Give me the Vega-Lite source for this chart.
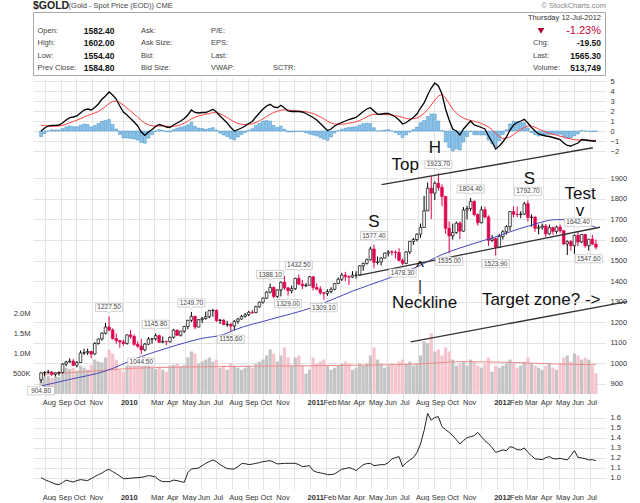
{
  "$schema": "https://vega.github.io/schema/vega-lite/v6.json",
  "background": "white",
  "padding": {"left": 0, "top": 0, "right": 0, "bottom": 0},
  "spacing": 0,
  "config": {
    "view": {"stroke": "#a8a8a8", "strokeWidth": 1},
    "axis": {"domain": false, "ticks": false, "title": null, "labelFont": "Liberation Sans", "labelFontSize": 7.5, "labelColor": "#333", "gridColor": "#e4e4e4", "gridWidth": 1},
    "text": {"font": "Liberation Sans"}
  },
  "datasets": {
    "wk": [
      {"d":"2009-07-24","o":920,"h":958,"l":904.8,"c":953,"v":380,"p":0.0,"s":0.57,"hg":-0.57,"r":1.0},
      {"d":"2009-07-31","o":953,"h":961,"l":935,"c":955,"v":420,"p":0.3,"s":0.55,"hg":-0.25,"r":0.98},
      {"d":"2009-08-07","o":955,"h":968,"l":950,"c":957,"v":450,"p":0.5,"s":0.5,"hg":0.0,"r":0.965},
      {"d":"2009-08-14","o":957,"h":962,"l":937,"c":946,"v":400,"p":0.57,"s":0.45,"hg":0.12,"r":0.95},
      {"d":"2009-08-21","o":946,"h":955,"l":935,"c":953,"v":430,"p":0.57,"s":0.47,"hg":0.1,"r":0.935},
      {"d":"2009-08-28","o":953,"h":960,"l":940,"c":955,"v":420,"p":0.6,"s":0.5,"hg":0.1,"r":0.93},
      {"d":"2009-09-04","o":955,"h":1000,"l":950,"c":996,"v":600,"p":0.8,"s":0.56,"hg":0.24,"r":0.95},
      {"d":"2009-09-11","o":996,"h":1012,"l":985,"c":1006,"v":650,"p":1.1,"s":0.68,"hg":0.42,"r":0.975},
      {"d":"2009-09-18","o":1006,"h":1024,"l":1003,"c":1010,"v":620,"p":1.33,"s":0.82,"hg":0.51,"r":0.965},
      {"d":"2009-09-25","o":1010,"h":1020,"l":986,"c":990,"v":640,"p":1.4,"s":0.96,"hg":0.44,"r":0.955},
      {"d":"2009-10-02","o":990,"h":1010,"l":980,"c":1003,"v":580,"p":1.5,"s":1.08,"hg":0.42,"r":0.97},
      {"d":"2009-10-09","o":1003,"h":1062,"l":1001,"c":1050,"v":700,"p":1.8,"s":1.22,"hg":0.58,"r":0.98},
      {"d":"2009-10-16","o":1050,"h":1070,"l":1040,"c":1051,"v":650,"p":2.1,"s":1.4,"hg":0.7,"r":0.975},
      {"d":"2009-10-23","o":1051,"h":1071,"l":1040,"c":1057,"v":600,"p":2.2,"s":1.55,"hg":0.65,"r":0.97},
      {"d":"2009-10-30","o":1057,"h":1060,"l":1025,"c":1045,"v":720,"p":2.1,"s":1.68,"hg":0.42,"r":0.99},
      {"d":"2009-11-06","o":1045,"h":1102,"l":1040,"c":1096,"v":850,"p":2.35,"s":1.8,"hg":0.55,"r":1.01},
      {"d":"2009-11-13","o":1096,"h":1120,"l":1090,"c":1118,"v":800,"p":2.7,"s":1.95,"hg":0.75,"r":1.03},
      {"d":"2009-11-20","o":1118,"h":1150,"l":1110,"c":1146,"v":780,"p":3.17,"s":2.2,"hg":0.97,"r":1.045},
      {"d":"2009-11-27","o":1146,"h":1196,"l":1140,"c":1176,"v":900,"p":3.5,"s":2.45,"hg":1.05,"r":1.07},
      {"d":"2009-12-04","o":1176,"h":1227.5,"l":1155,"c":1162,"v":1100,"p":3.9,"s":2.75,"hg":1.15,"r":1.083},
      {"d":"2009-12-11","o":1162,"h":1170,"l":1115,"c":1120,"v":1000,"p":3.6,"s":2.95,"hg":0.65,"r":1.06},
      {"d":"2009-12-18","o":1120,"h":1145,"l":1095,"c":1110,"v":850,"p":3.2,"s":3.0,"hg":0.2,"r":1.04},
      {"d":"2009-12-25","o":1110,"h":1112,"l":1075,"c":1104,"v":600,"p":2.5,"s":2.85,"hg":-0.35,"r":1.015},
      {"d":"2010-01-01","o":1104,"h":1115,"l":1085,"c":1096,"v":550,"p":1.9,"s":2.6,"hg":-0.7,"r":0.99},
      {"d":"2010-01-08","o":1096,"h":1140,"l":1090,"c":1138,"v":700,"p":1.6,"s":2.3,"hg":-0.7,"r":0.99},
      {"d":"2010-01-15","o":1138,"h":1162,"l":1120,"c":1130,"v":750,"p":1.25,"s":2.0,"hg":-0.75,"r":0.995},
      {"d":"2010-01-22","o":1130,"h":1140,"l":1085,"c":1092,"v":780,"p":0.9,"s":1.7,"hg":-0.8,"r":0.997},
      {"d":"2010-01-29","o":1092,"h":1106,"l":1074,"c":1083,"v":820,"p":0.5,"s":1.4,"hg":-0.9,"r":1.0},
      {"d":"2010-02-05","o":1083,"h":1120,"l":1044.5,"c":1065,"v":950,"p":-0.1,"s":1.05,"hg":-1.15,"r":1.003},
      {"d":"2010-02-12","o":1065,"h":1098,"l":1058,"c":1093,"v":800,"p":-0.43,"s":0.8,"hg":-1.23,"r":1.01},
      {"d":"2010-02-19","o":1093,"h":1127,"l":1088,"c":1118,"v":700,"p":-0.1,"s":0.62,"hg":-0.72,"r":1.02},
      {"d":"2010-02-26","o":1118,"h":1122,"l":1095,"c":1119,"v":650,"p":0.15,"s":0.52,"hg":-0.37,"r":1.015},
      {"d":"2010-03-05","o":1119,"h":1145.8,"l":1110,"c":1134,"v":620,"p":0.45,"s":0.5,"hg":-0.05,"r":1.005},
      {"d":"2010-03-12","o":1134,"h":1140,"l":1100,"c":1102,"v":680,"p":0.65,"s":0.5,"hg":0.15,"r":0.975},
      {"d":"2010-03-19","o":1102,"h":1130,"l":1098,"c":1106,"v":600,"p":0.55,"s":0.5,"hg":0.05,"r":0.96},
      {"d":"2010-03-26","o":1106,"h":1110,"l":1088,"c":1105,"v":550,"p":0.4,"s":0.48,"hg":-0.08,"r":0.96},
      {"d":"2010-04-02","o":1105,"h":1130,"l":1100,"c":1126,"v":700,"p":0.35,"s":0.45,"hg":-0.1,"r":0.96},
      {"d":"2010-04-09","o":1126,"h":1166,"l":1120,"c":1161,"v":720,"p":0.6,"s":0.47,"hg":0.13,"r":0.975},
      {"d":"2010-04-16","o":1161,"h":1164,"l":1132,"c":1136,"v":750,"p":0.8,"s":0.52,"hg":0.28,"r":0.97},
      {"d":"2010-04-23","o":1136,"h":1158,"l":1130,"c":1156,"v":680,"p":1.0,"s":0.62,"hg":0.38,"r":0.96},
      {"d":"2010-04-30","o":1156,"h":1182,"l":1148,"c":1179,"v":720,"p":1.25,"s":0.78,"hg":0.47,"r":0.953},
      {"d":"2010-05-07","o":1179,"h":1211,"l":1165,"c":1209,"v":900,"p":1.6,"s":0.98,"hg":0.62,"r":1.05},
      {"d":"2010-05-14","o":1209,"h":1249.7,"l":1200,"c":1228,"v":1050,"p":2.1,"s":1.22,"hg":0.88,"r":1.087},
      {"d":"2010-05-21","o":1228,"h":1232,"l":1166,"c":1176,"v":1000,"p":1.85,"s":1.38,"hg":0.47,"r":1.09},
      {"d":"2010-05-28","o":1176,"h":1215,"l":1175,"c":1212,"v":750,"p":1.8,"s":1.5,"hg":0.3,"r":1.097},
      {"d":"2010-06-04","o":1212,"h":1225,"l":1196,"c":1217,"v":800,"p":1.85,"s":1.6,"hg":0.25,"r":1.12},
      {"d":"2010-06-11","o":1217,"h":1251,"l":1212,"c":1226,"v":850,"p":1.85,"s":1.68,"hg":0.17,"r":1.143},
      {"d":"2010-06-18","o":1226,"h":1260,"l":1220,"c":1256,"v":900,"p":2.0,"s":1.75,"hg":0.25,"r":1.16},
      {"d":"2010-06-25","o":1256,"h":1265,"l":1226,"c":1257,"v":800,"p":2.17,"s":1.83,"hg":0.34,"r":1.177},
      {"d":"2010-07-02","o":1257,"h":1262,"l":1200,"c":1208,"v":850,"p":1.9,"s":1.82,"hg":0.08,"r":1.16},
      {"d":"2010-07-09","o":1208,"h":1215,"l":1191,"c":1210,"v":650,"p":1.5,"s":1.72,"hg":-0.22,"r":1.13},
      {"d":"2010-07-16","o":1210,"h":1214,"l":1187,"c":1188,"v":700,"p":1.15,"s":1.55,"hg":-0.4,"r":1.11},
      {"d":"2010-07-23","o":1188,"h":1206,"l":1177,"c":1189,"v":600,"p":0.8,"s":1.35,"hg":-0.55,"r":1.09},
      {"d":"2010-07-30","o":1189,"h":1195,"l":1155.6,"c":1181,"v":750,"p":0.35,"s":1.12,"hg":-0.77,"r":1.087},
      {"d":"2010-08-06","o":1181,"h":1210,"l":1159,"c":1204,"v":700,"p":0.0,"s":0.9,"hg":-0.9,"r":1.087},
      {"d":"2010-08-13","o":1204,"h":1220,"l":1192,"c":1215,"v":650,"p":0.15,"s":0.75,"hg":-0.6,"r":1.11},
      {"d":"2010-08-20","o":1215,"h":1235,"l":1212,"c":1228,"v":600,"p":0.3,"s":0.67,"hg":-0.37,"r":1.14},
      {"d":"2010-08-27","o":1228,"h":1244,"l":1222,"c":1236,"v":650,"p":0.5,"s":0.65,"hg":-0.15,"r":1.14},
      {"d":"2010-09-03","o":1236,"h":1255,"l":1230,"c":1248,"v":700,"p":0.75,"s":0.67,"hg":0.08,"r":1.13},
      {"d":"2010-09-10","o":1248,"h":1260,"l":1240,"c":1246,"v":650,"p":0.95,"s":0.72,"hg":0.23,"r":1.135},
      {"d":"2010-09-17","o":1246,"h":1280,"l":1243,"c":1275,"v":750,"p":1.4,"s":0.85,"hg":0.55,"r":1.143},
      {"d":"2010-09-24","o":1275,"h":1300,"l":1270,"c":1297,"v":800,"p":1.8,"s":1.02,"hg":0.78,"r":1.15},
      {"d":"2010-10-01","o":1297,"h":1320,"l":1290,"c":1317,"v":850,"p":2.2,"s":1.22,"hg":0.98,"r":1.16},
      {"d":"2010-10-08","o":1317,"h":1350,"l":1313,"c":1346,"v":950,"p":2.5,"s":1.45,"hg":1.05,"r":1.165},
      {"d":"2010-10-15","o":1346,"h":1388.1,"l":1340,"c":1369,"v":1100,"p":2.67,"s":1.68,"hg":0.99,"r":1.17},
      {"d":"2010-10-22","o":1369,"h":1373,"l":1316,"c":1325,"v":1000,"p":2.4,"s":1.85,"hg":0.55,"r":1.155},
      {"d":"2010-10-29","o":1325,"h":1360,"l":1318,"c":1357,"v":800,"p":2.33,"s":1.97,"hg":0.36,"r":1.137},
      {"d":"2010-11-05","o":1357,"h":1398,"l":1325,"c":1394,"v":950,"p":2.57,"s":2.08,"hg":0.49,"r":1.14},
      {"d":"2010-11-12","o":1394,"h":1424,"l":1357,"c":1367,"v":1150,"p":2.3,"s":2.12,"hg":0.18,"r":1.143},
      {"d":"2010-11-19","o":1367,"h":1370,"l":1329,"c":1353,"v":900,"p":2.0,"s":2.1,"hg":-0.1,"r":1.143},
      {"d":"2010-11-26","o":1353,"h":1378,"l":1340,"c":1363,"v":700,"p":1.95,"s":2.05,"hg":-0.1,"r":1.143},
      {"d":"2010-12-03","o":1363,"h":1416,"l":1357,"c":1413,"v":900,"p":1.95,"s":2.02,"hg":-0.07,"r":1.143},
      {"d":"2010-12-10","o":1413,"h":1432.5,"l":1380,"c":1385,"v":950,"p":1.95,"s":2.0,"hg":-0.05,"r":1.13},
      {"d":"2010-12-17","o":1385,"h":1405,"l":1360,"c":1377,"v":700,"p":1.9,"s":1.97,"hg":-0.07,"r":1.11},
      {"d":"2010-12-24","o":1377,"h":1390,"l":1370,"c":1380,"v":500,"p":1.75,"s":1.92,"hg":-0.17,"r":1.115},
      {"d":"2010-12-31","o":1380,"h":1424,"l":1378,"c":1421,"v":600,"p":1.55,"s":1.85,"hg":-0.3,"r":1.12},
      {"d":"2011-01-07","o":1421,"h":1423,"l":1354,"c":1369,"v":900,"p":1.35,"s":1.75,"hg":-0.4,"r":1.07},
      {"d":"2011-01-14","o":1369,"h":1390,"l":1355,"c":1361,"v":750,"p":1.1,"s":1.6,"hg":-0.5,"r":1.055},
      {"d":"2011-01-21","o":1361,"h":1375,"l":1334,"c":1343,"v":800,"p":0.75,"s":1.42,"hg":-0.67,"r":1.047},
      {"d":"2011-01-28","o":1343,"h":1345,"l":1309.1,"c":1340,"v":850,"p":0.4,"s":1.22,"hg":-0.82,"r":1.04},
      {"d":"2011-02-04","o":1340,"h":1360,"l":1328,"c":1349,"v":700,"p":0.05,"s":0.98,"hg":-0.93,"r":1.03},
      {"d":"2011-02-11","o":1349,"h":1370,"l":1340,"c":1360,"v":600,"p":0.2,"s":0.8,"hg":-0.6,"r":1.03},
      {"d":"2011-02-18","o":1360,"h":1390,"l":1355,"c":1388,"v":650,"p":0.5,"s":0.7,"hg":-0.2,"r":1.037},
      {"d":"2011-02-25","o":1388,"h":1418,"l":1385,"c":1409,"v":700,"p":0.7,"s":0.67,"hg":0.03,"r":1.06},
      {"d":"2011-03-04","o":1409,"h":1440,"l":1400,"c":1429,"v":750,"p":0.85,"s":0.68,"hg":0.17,"r":1.085},
      {"d":"2011-03-11","o":1429,"h":1445,"l":1400,"c":1421,"v":800,"p":1.0,"s":0.72,"hg":0.28,"r":1.09},
      {"d":"2011-03-18","o":1421,"h":1427,"l":1381,"c":1419,"v":750,"p":1.15,"s":0.78,"hg":0.37,"r":1.1},
      {"d":"2011-03-25","o":1419,"h":1448,"l":1415,"c":1428,"v":600,"p":1.25,"s":0.85,"hg":0.4,"r":1.09},
      {"d":"2011-04-01","o":1428,"h":1448,"l":1412,"c":1429,"v":650,"p":1.35,"s":0.92,"hg":0.43,"r":1.07},
      {"d":"2011-04-08","o":1429,"h":1477,"l":1425,"c":1474,"v":750,"p":1.65,"s":1.05,"hg":0.6,"r":1.1},
      {"d":"2011-04-15","o":1474,"h":1490,"l":1450,"c":1486,"v":700,"p":1.95,"s":1.22,"hg":0.73,"r":1.13},
      {"d":"2011-04-22","o":1486,"h":1509,"l":1480,"c":1504,"v":750,"p":2.2,"s":1.42,"hg":0.78,"r":1.14},
      {"d":"2011-04-29","o":1504,"h":1567,"l":1500,"c":1556,"v":950,"p":2.33,"s":1.58,"hg":0.75,"r":1.143},
      {"d":"2011-05-06","o":1556,"h":1577.4,"l":1462,"c":1491,"v":1150,"p":2.0,"s":1.67,"hg":0.33,"r":1.12},
      {"d":"2011-05-13","o":1491,"h":1520,"l":1480,"c":1493,"v":850,"p":1.67,"s":1.67,"hg":0.0,"r":1.125},
      {"d":"2011-05-20","o":1493,"h":1516,"l":1475,"c":1512,"v":750,"p":1.7,"s":1.66,"hg":0.04,"r":1.13},
      {"d":"2011-05-27","o":1512,"h":1538,"l":1510,"c":1536,"v":650,"p":1.75,"s":1.65,"hg":0.1,"r":1.13},
      {"d":"2011-06-03","o":1536,"h":1550,"l":1520,"c":1542,"v":700,"p":1.77,"s":1.63,"hg":0.14,"r":1.15},
      {"d":"2011-06-10","o":1542,"h":1550,"l":1525,"c":1541,"v":750,"p":1.6,"s":1.6,"hg":0.0,"r":1.187},
      {"d":"2011-06-17","o":1541,"h":1550,"l":1510,"c":1539,"v":700,"p":1.4,"s":1.55,"hg":-0.15,"r":1.2},
      {"d":"2011-06-24","o":1539,"h":1560,"l":1495,"c":1501,"v":800,"p":1.1,"s":1.47,"hg":-0.37,"r":1.21},
      {"d":"2011-07-01","o":1501,"h":1510,"l":1478.3,"c":1486,"v":850,"p":0.7,"s":1.35,"hg":-0.65,"r":1.11},
      {"d":"2011-07-08","o":1486,"h":1545,"l":1482,"c":1542,"v":750,"p":0.85,"s":1.25,"hg":-0.4,"r":1.15},
      {"d":"2011-07-15","o":1542,"h":1595,"l":1532,"c":1593,"v":800,"p":1.1,"s":1.2,"hg":-0.1,"r":1.175},
      {"d":"2011-07-22","o":1593,"h":1610,"l":1576,"c":1602,"v":700,"p":1.35,"s":1.22,"hg":0.13,"r":1.2},
      {"d":"2011-07-29","o":1602,"h":1632,"l":1593,"c":1628,"v":750,"p":1.7,"s":1.3,"hg":0.4,"r":1.25},
      {"d":"2011-08-05","o":1628,"h":1680,"l":1610,"c":1661,"v":950,"p":2.3,"s":1.48,"hg":0.82,"r":1.337},
      {"d":"2011-08-12","o":1661,"h":1815,"l":1660,"c":1742,"v":1300,"p":2.8,"s":1.75,"hg":1.05,"r":1.47},
      {"d":"2011-08-19","o":1742,"h":1880,"l":1740,"c":1852,"v":1250,"p":3.6,"s":2.15,"hg":1.45,"r":1.643},
      {"d":"2011-08-26","o":1852,"h":1912,"l":1702,"c":1828,"v":1500,"p":4.3,"s":2.6,"hg":1.7,"r":1.575},
      {"d":"2011-09-02","o":1828,"h":1885,"l":1795,"c":1876,"v":1050,"p":4.8,"s":3.1,"hg":1.7,"r":1.603},
      {"d":"2011-09-09","o":1876,"h":1923.7,"l":1840,"c":1856,"v":1100,"p":4.5,"s":3.5,"hg":1.0,"r":1.61},
      {"d":"2011-09-16","o":1856,"h":1870,"l":1765,"c":1812,"v":950,"p":3.7,"s":3.67,"hg":0.03,"r":1.51},
      {"d":"2011-09-23","o":1812,"h":1815,"l":1630,"c":1657,"v":1150,"p":2.2,"s":3.3,"hg":-1.1,"r":1.48},
      {"d":"2011-09-30","o":1657,"h":1690,"l":1535,"c":1620,"v":1050,"p":1.1,"s":2.75,"hg":-1.65,"r":1.453},
      {"d":"2011-10-07","o":1620,"h":1680,"l":1602,"c":1636,"v":850,"p":0.2,"s":2.2,"hg":-2.0,"r":1.42},
      {"d":"2011-10-14","o":1636,"h":1690,"l":1630,"c":1682,"v":700,"p":0.0,"s":1.8,"hg":-1.8,"r":1.38},
      {"d":"2011-10-21","o":1682,"h":1690,"l":1605,"c":1643,"v":750,"p":-0.4,"s":1.5,"hg":-1.9,"r":1.337},
      {"d":"2011-10-28","o":1643,"h":1760,"l":1640,"c":1746,"v":800,"p":0.2,"s":1.3,"hg":-1.1,"r":1.37},
      {"d":"2011-11-04","o":1746,"h":1766,"l":1700,"c":1753,"v":700,"p":0.6,"s":1.15,"hg":-0.55,"r":1.4},
      {"d":"2011-11-11","o":1753,"h":1804.4,"l":1740,"c":1788,"v":850,"p":1.0,"s":1.05,"hg":-0.05,"r":1.41},
      {"d":"2011-11-18","o":1788,"h":1792,"l":1715,"c":1724,"v":800,"p":0.6,"s":0.98,"hg":-0.38,"r":1.42},
      {"d":"2011-11-25","o":1724,"h":1730,"l":1670,"c":1684,"v":700,"p":0.5,"s":0.88,"hg":-0.38,"r":1.453},
      {"d":"2011-12-02","o":1684,"h":1764,"l":1680,"c":1747,"v":650,"p":0.35,"s":0.75,"hg":-0.4,"r":1.41},
      {"d":"2011-12-09","o":1747,"h":1763,"l":1705,"c":1712,"v":750,"p":0.2,"s":0.6,"hg":-0.4,"r":1.37},
      {"d":"2011-12-16","o":1712,"h":1720,"l":1570,"c":1598,"v":900,"p":-0.5,"s":0.4,"hg":-0.9,"r":1.34},
      {"d":"2011-12-23","o":1598,"h":1625,"l":1590,"c":1606,"v":550,"p":-1.1,"s":0.15,"hg":-1.25,"r":1.3},
      {"d":"2011-12-30","o":1606,"h":1612,"l":1523.9,"c":1564,"v":700,"p":-1.8,"s":-0.25,"hg":-1.55,"r":1.253},
      {"d":"2012-01-06","o":1564,"h":1630,"l":1560,"c":1617,"v":650,"p":-1.5,"s":-0.55,"hg":-0.95,"r":1.265},
      {"d":"2012-01-13","o":1617,"h":1648,"l":1602,"c":1640,"v":700,"p":-1.1,"s":-0.75,"hg":-0.35,"r":1.277},
      {"d":"2012-01-20","o":1640,"h":1672,"l":1626,"c":1665,"v":750,"p":-0.6,"s":-0.72,"hg":0.12,"r":1.27},
      {"d":"2012-01-27","o":1665,"h":1740,"l":1645,"c":1738,"v":850,"p":0.1,"s":-0.6,"hg":0.7,"r":1.31},
      {"d":"2012-02-03","o":1738,"h":1764,"l":1710,"c":1725,"v":750,"p":0.6,"s":-0.35,"hg":0.95,"r":1.3},
      {"d":"2012-02-10","o":1725,"h":1763,"l":1710,"c":1724,"v":650,"p":0.85,"s":-0.1,"hg":0.95,"r":1.28},
      {"d":"2012-02-17","o":1724,"h":1740,"l":1706,"c":1726,"v":700,"p":1.0,"s":0.15,"hg":0.85,"r":1.277},
      {"d":"2012-02-24","o":1726,"h":1786,"l":1722,"c":1776,"v":800,"p":1.17,"s":0.35,"hg":0.82,"r":1.297},
      {"d":"2012-03-02","o":1776,"h":1792.7,"l":1690,"c":1710,"v":900,"p":0.8,"s":0.5,"hg":0.3,"r":1.253},
      {"d":"2012-03-09","o":1710,"h":1725,"l":1665,"c":1711,"v":750,"p":0.35,"s":0.5,"hg":-0.15,"r":1.22},
      {"d":"2012-03-16","o":1711,"h":1715,"l":1640,"c":1657,"v":700,"p":0.0,"s":0.38,"hg":-0.38,"r":1.187},
      {"d":"2012-03-23","o":1657,"h":1675,"l":1627,"c":1662,"v":650,"p":-0.3,"s":0.2,"hg":-0.5,"r":1.185},
      {"d":"2012-03-30","o":1662,"h":1680,"l":1650,"c":1668,"v":600,"p":-0.4,"s":0.05,"hg":-0.45,"r":1.18},
      {"d":"2012-04-06","o":1668,"h":1678,"l":1612,"c":1630,"v":700,"p":-0.5,"s":-0.1,"hg":-0.4,"r":1.2},
      {"d":"2012-04-13","o":1630,"h":1675,"l":1625,"c":1660,"v":750,"p":-0.55,"s":-0.22,"hg":-0.33,"r":1.21},
      {"d":"2012-04-20","o":1660,"h":1665,"l":1626,"c":1642,"v":650,"p":-0.65,"s":-0.32,"hg":-0.33,"r":1.19},
      {"d":"2012-04-27","o":1642,"h":1670,"l":1630,"c":1663,"v":600,"p":-0.75,"s":-0.42,"hg":-0.33,"r":1.187},
      {"d":"2012-05-04","o":1663,"h":1675,"l":1635,"c":1645,"v":750,"p":-0.85,"s":-0.52,"hg":-0.33,"r":1.193},
      {"d":"2012-05-11","o":1645,"h":1649,"l":1575,"c":1581,"v":900,"p":-1.2,"s":-0.62,"hg":-0.58,"r":1.185},
      {"d":"2012-05-18","o":1581,"h":1598,"l":1527,"c":1592,"v":950,"p":-1.45,"s":-0.72,"hg":-0.73,"r":1.177},
      {"d":"2012-05-25","o":1592,"h":1600,"l":1547,"c":1572,"v":800,"p":-1.5,"s":-0.8,"hg":-0.7,"r":1.22},
      {"d":"2012-06-01","o":1572,"h":1627,"l":1532,"c":1622,"v":1000,"p":-1.35,"s":-0.87,"hg":-0.48,"r":1.27},
      {"d":"2012-06-08","o":1622,"h":1642.4,"l":1570,"c":1590,"v":950,"p":-1.2,"s":-0.9,"hg":-0.3,"r":1.203},
      {"d":"2012-06-15","o":1590,"h":1628,"l":1585,"c":1627,"v":850,"p":-0.85,"s":-0.9,"hg":0.05,"r":1.197},
      {"d":"2012-06-22","o":1627,"h":1629,"l":1562,"c":1572,"v":900,"p":-0.9,"s":-0.9,"hg":0.0,"r":1.19},
      {"d":"2012-06-29","o":1572,"h":1605,"l":1547.6,"c":1604,"v":850,"p":-0.95,"s":-0.92,"hg":-0.03,"r":1.177},
      {"d":"2012-07-06","o":1604,"h":1625,"l":1575,"c":1580,"v":700,"p":-1.0,"s":-0.94,"hg":-0.06,"r":1.18},
      {"d":"2012-07-13","o":1580,"h":1602,"l":1554.4,"c":1565.3,"v":513.749,"p":-1.0,"s":-0.947,"hg":-0.053,"r":1.17}
    ],
    "ma": [
      {"d":"2009-07-24","m":889},{"d":"2009-09-18","m":921},{"d":"2009-11-27","m":962},{"d":"2010-01-29","m":1026},
      {"d":"2010-04-02","m":1078},{"d":"2010-06-04","m":1121},{"d":"2010-07-16","m":1140},{"d":"2010-08-06","m":1162},
      {"d":"2010-10-15","m":1213},{"d":"2011-01-07","m":1273},{"d":"2011-01-21","m":1286},{"d":"2011-03-25","m":1351},
      {"d":"2011-05-27","m":1407},{"d":"2011-07-29","m":1469},{"d":"2011-09-16","m":1529},{"d":"2011-10-21","m":1561},
      {"d":"2011-12-23","m":1610},{"d":"2012-03-02","m":1667},{"d":"2012-04-27","m":1699},{"d":"2012-05-18","m":1699},
      {"d":"2012-07-13","m":1661}
    ],
    "vema": [
      {"d":"2009-07-24","e":480},{"d":"2009-10-30","e":560},{"d":"2010-01-29","e":640},{"d":"2010-07-30","e":680},
      {"d":"2011-01-28","e":700},{"d":"2011-07-29","e":740},{"d":"2011-10-28","e":800},{"d":"2012-01-27","e":780},
      {"d":"2012-04-27","e":740},{"d":"2012-07-13","e":723}
    ],
    "lbl": [
      {"d":"2009-12-04","p":1227.5,"t":"1227.50","pos":"hi"},
      {"d":"2010-03-05","p":1145.8,"t":"1145.80","pos":"hi"},
      {"d":"2010-05-14","p":1249.7,"t":"1249.70","pos":"hi"},
      {"d":"2010-10-15","p":1388.1,"t":"1388.10","pos":"hi"},
      {"d":"2010-12-10","p":1432.5,"t":"1432.50","pos":"hi"},
      {"d":"2011-05-06","p":1577.4,"t":"1577.40","pos":"hi"},
      {"d":"2011-09-09","p":1923.7,"t":"1923.70","pos":"hi"},
      {"d":"2011-11-11","p":1804.4,"t":"1804.40","pos":"hi"},
      {"d":"2012-03-02","p":1792.7,"t":"1792.70","pos":"hi"},
      {"d":"2012-06-08","p":1642.4,"t":"1642.40","pos":"hi"},
      {"d":"2009-07-24","p":904.8,"t":"904.80","pos":"lo"},
      {"d":"2010-02-05","p":1044.5,"t":"1044.50","pos":"lo"},
      {"d":"2010-07-30","p":1155.6,"t":"1155.60","pos":"lo"},
      {"d":"2010-11-19","p":1329.0,"t":"1329.00","pos":"lo"},
      {"d":"2011-01-28","p":1309.1,"t":"1309.10","pos":"lo"},
      {"d":"2011-07-01","p":1478.3,"t":"1478.30","pos":"lo"},
      {"d":"2011-09-30","p":1535.0,"t":"1535.00","pos":"lo"},
      {"d":"2011-12-30","p":1523.9,"t":"1523.90","pos":"lo"},
      {"d":"2012-06-29","p":1547.6,"t":"1547.60","pos":"lo"}
    ],
    "ann": [
      {"d":"2011-05-21","p":1869,"d2":"2012-07-07","p2":2049},
      {"d":"2011-04-06","p":1428,"d2":"2012-07-21","p2":1662},
      {"d":"2011-07-17","p":1104,"d2":"2012-09-12","p2":1300}
    ],
    "txt": [
      {"d":"2011-05-06","p":1686,"t":"S"},
      {"d":"2011-07-06","p":1966,"t":"Top"},
      {"d":"2011-09-02","p":2047,"t":"H"},
      {"d":"2012-03-05","p":1895,"t":"S"},
      {"d":"2012-06-12","p":1824,"t":"Test"},
      {"d":"2012-06-12","p":1740,"t":"v"},
      {"d":"2011-08-04","p":1462,"t":"^"},
      {"d":"2011-08-13","p":1291,"t":"Neckline"},
      {"d":"2012-03-28","p":1307,"t":"Target zone? ->"}
    ],
    "bar": [
      {"d":"2011-08-04","p":1369,"t":"|"}
    ],
    "hdr": [
      {"t":"$GOLD","c":0,"r":"t","k":"tb"},
      {"t":"(Gold - Spot Price (EOD)) CME","c":2,"r":"t","k":"ts"},
      {"t":"© StockCharts.com","c":10,"r":"t","k":"br"},
      {"t":"Thursday  12-Jul-2012","c":9,"r":"d","k":"rn"},
      {"t":"Open:","c":1,"r":"r1","k":"lab"},
      {"t":"1582.40","c":3,"r":"r1","k":"val"},
      {"t":"Ask:","c":4,"r":"r1","k":"lab"},
      {"t":"P/E:","c":5,"r":"r1","k":"lab"},
      {"t":"down","c":8,"r":"r1","k":"tri"},
      {"t":"-1.23%","c":9,"r":"r1","k":"pct"},
      {"t":"High:","c":1,"r":"r2","k":"lab"},
      {"t":"1602.00","c":3,"r":"r2","k":"val"},
      {"t":"Ask Size:","c":4,"r":"r2","k":"lab"},
      {"t":"EPS:","c":5,"r":"r2","k":"lab"},
      {"t":"Chg:","c":7,"r":"r2","k":"lab"},
      {"t":"-19.50","c":9,"r":"r2","k":"rv"},
      {"t":"Low:","c":1,"r":"r3","k":"lab"},
      {"t":"1554.40","c":3,"r":"r3","k":"val"},
      {"t":"Bid:","c":4,"r":"r3","k":"lab"},
      {"t":"Last:","c":5,"r":"r3","k":"lab"},
      {"t":"Last:","c":7,"r":"r3","k":"lab"},
      {"t":"1565.30","c":9,"r":"r3","k":"rv"},
      {"t":"Prev Close:","c":1,"r":"r4","k":"lab"},
      {"t":"1584.80","c":3,"r":"r4","k":"val"},
      {"t":"Bid Size:","c":4,"r":"r4","k":"lab"},
      {"t":"VWAP:","c":5,"r":"r4","k":"lab"},
      {"t":"SCTR:","c":6,"r":"r4","k":"lab"},
      {"t":"Volume:","c":7,"r":"r4","k":"lab"},
      {"t":"513,749","c":9,"r":"r4","k":"rv"}
    ]
  },
  "vconcat": [
    {
      "width": 572,
      "height": 63,
      "data": {"name": "hdr"},
      "encoding": {
        "x": {"field": "c", "type": "quantitative", "axis": null, "scale": {"domain": [0,1,2,3,4,5,6,7,8,9,10], "range": [0,4.5,35.6,50.7,108,178,240,500,508,568,573], "nice": false, "zero": false}},
        "y": {"field": "r", "type": "nominal", "axis": null, "scale": {"type": "point", "domain": ["t","d","r1","r2","r3","r4"], "range": [-6, 56], "padding": 0}},
        "text": {"field": "t"}
      },
      "layer": [
        {"transform": [{"filter": "datum.k == 'tb'"}], "mark": {"type": "text", "align": "left", "baseline": "middle", "fontSize": 10.5, "fontWeight": "bold", "fill": "#222"}},
        {"transform": [{"filter": "datum.k == 'ts'"}], "mark": {"type": "text", "align": "left", "baseline": "middle", "fontSize": 7.5, "fill": "#444"}},
        {"transform": [{"filter": "datum.k == 'br'"}], "mark": {"type": "text", "align": "right", "baseline": "middle", "fontSize": 7.5, "fill": "#888"}},
        {"transform": [{"filter": "datum.k == 'rn'"}], "mark": {"type": "text", "align": "right", "baseline": "middle", "fontSize": 7.5, "fill": "#333"}},
        {"transform": [{"filter": "datum.k == 'lab'"}], "mark": {"type": "text", "align": "left", "baseline": "middle", "fontSize": 7.5, "fill": "#444"}},
        {"transform": [{"filter": "datum.k == 'val'"}], "mark": {"type": "text", "align": "left", "baseline": "middle", "fontSize": 8.5, "fontWeight": "bold", "fill": "#111"}},
        {"transform": [{"filter": "datum.k == 'rv'"}], "mark": {"type": "text", "align": "right", "baseline": "middle", "fontSize": 8.5, "fontWeight": "bold", "fill": "#111"}},
        {"transform": [{"filter": "datum.k == 'pct'"}], "mark": {"type": "text", "align": "right", "baseline": "middle", "fontSize": 11, "fill": "#c4003b"}},
        {"transform": [{"filter": "datum.k == 'tri'"}], "mark": {"type": "point", "shape": "triangle-down", "size": 45, "filled": true, "color": "#a8002f", "opacity": 1}, "encoding": {"text": null}}
      ]
    },
    {
      "width": 572,
      "height": 411,
      "view": {"stroke": null},
      "layer": [
        {
          "data": {"name": "wk"},
          "encoding": {
            "x": {"field": "d", "type": "temporal", "axis": null, "scale": {"type": "utc", "nice": false, "domain": [{"year":2009,"month":7,"date":18,"utc":true},{"year":2012,"month":7,"date":21,"utc":true}]}}
          },
          "layer": [
            {"mark": {"type": "bar", "size": 2.8, "fill": "#8ec5ea", "stroke": "#3f8cc6", "strokeWidth": 0.5},
             "encoding": {"y": {"field": "hg", "type": "quantitative", "scale": {"domain": [-35.8, 5.3], "nice": false, "zero": false},
                                "axis": {"orient": "right", "values": [-2,-1,0,1,2,3,4,5], "grid": true, "labelPadding": 5}}}},
            {"mark": {"type": "line", "color": "#ff4040", "strokeWidth": 1},
             "encoding": {"y": {"field": "s", "type": "quantitative", "scale": {"domain": [-35.8, 5.3], "nice": false, "zero": false}}}},
            {"mark": {"type": "line", "color": "#000", "strokeWidth": 1.3},
             "encoding": {"y": {"field": "p", "type": "quantitative", "scale": {"domain": [-35.8, 5.3], "nice": false, "zero": false}}}},
            {"data": {"values": [{"t": "box"}]}, "mark": {"type": "rect", "filled": false, "color": "#a8a8a8", "stroke": "#a8a8a8", "strokeWidth": 1},
             "encoding": {"x": {"datum": {"year":2009,"month":7,"date":18,"utc":true}, "type": "temporal"}, "x2": {"datum": {"year":2012,"month":7,"date":21,"utc":true}},
                          "y": {"datum": 5.3, "type": "quantitative", "scale": {"domain": [-35.8, 5.3], "nice": false, "zero": false}}, "y2": {"datum": -2.6}}},
            {"data": {"values": [{"t": "━"}]}, "mark": {"type": "text", "align": "left", "baseline": "middle", "dx": 3, "fontSize": 8, "fill": "#000", "font": "DejaVu Sans Mono"},
             "encoding": {"x": {"datum": {"year":2009,"month":7,"date":18,"utc":true}, "type": "temporal"}, "y": {"datum": 4.9, "type": "quantitative", "scale": {"domain": [-35.8, 5.3], "nice": false, "zero": false}}, "text": {"field": "t"}}},
            {"data": {"values": [{"t": "PPO(6,12,9) -1.000,"}]}, "mark": {"type": "text", "align": "left", "baseline": "middle", "dx": 10, "fontSize": 7.5, "fill": "#333", "font": "DejaVu Sans Mono"},
             "encoding": {"x": {"datum": {"year":2009,"month":7,"date":18,"utc":true}, "type": "temporal"}, "y": {"datum": 4.9, "type": "quantitative", "scale": {"domain": [-35.8, 5.3], "nice": false, "zero": false}}, "text": {"field": "t"}}},
            {"data": {"values": [{"t": "-0.947,"}]}, "mark": {"type": "text", "align": "left", "baseline": "middle", "dx": 100, "fontSize": 7.5, "fill": "#f05050", "font": "DejaVu Sans Mono"},
             "encoding": {"x": {"datum": {"year":2009,"month":7,"date":18,"utc":true}, "type": "temporal"}, "y": {"datum": 4.9, "type": "quantitative", "scale": {"domain": [-35.8, 5.3], "nice": false, "zero": false}}, "text": {"field": "t"}}},
            {"data": {"values": [{"t": "-0.053"}]}, "mark": {"type": "text", "align": "left", "baseline": "middle", "dx": 136, "fontSize": 7.5, "fill": "#5aa8dc", "font": "DejaVu Sans Mono"},
             "encoding": {"x": {"datum": {"year":2009,"month":7,"date":18,"utc":true}, "type": "temporal"}, "y": {"datum": 4.9, "type": "quantitative", "scale": {"domain": [-35.8, 5.3], "nice": false, "zero": false}}, "text": {"field": "t"}}},
            {"data": {"values": [{"v": -0.053}, {"v": -1.0}]},
             "mark": {"type": "point", "shape": "M-1.15,0L-1,-0.37H1V0.37H-1Z", "size": 576, "filled": true, "fill": "white", "stroke": "#888", "strokeWidth": 0.8, "opacity": 1, "xOffset": 10},
             "encoding": {"x": {"datum": {"year":2012,"month":7,"date":28,"utc":true}, "type": "temporal"}, "y": {"field": "v", "type": "quantitative", "scale": {"domain": [-35.8, 5.3], "nice": false, "zero": false}}}},
            {"data": {"values": [{"v": -0.053, "t": "-0.053"}]}, "mark": {"type": "text", "align": "left", "baseline": "middle", "fontSize": 7, "fill": "#4a9ad0"},
             "encoding": {"x": {"datum": {"year":2012,"month":7,"date":28,"utc":true}, "type": "temporal"}, "y": {"field": "v", "type": "quantitative", "scale": {"domain": [-35.8, 5.3], "nice": false, "zero": false}}, "text": {"field": "t"}}},
            {"data": {"values": [{"v": -1.0, "t": "-1.000"}]}, "mark": {"type": "text", "align": "left", "baseline": "middle", "fontSize": 7, "fill": "#111"},
             "encoding": {"x": {"datum": {"year":2012,"month":7,"date":28,"utc":true}, "type": "temporal"}, "y": {"field": "v", "type": "quantitative", "scale": {"domain": [-35.8, 5.3], "nice": false, "zero": false}}, "text": {"field": "t"}}}
          ]
        },
        {
          "encoding": {
            "x": {"field": "d", "type": "temporal", "axis": null, "scale": {"type": "utc", "nice": false, "domain": [{"year":2009,"month":7,"date":18,"utc":true},{"year":2012,"month":7,"date":21,"utc":true}]}}
          },
          "layer": [
            {"data": {"name": "wk"}, "mark": {"type": "bar", "size": 3.2},
             "encoding": {"y": {"field": "v", "type": "quantitative", "scale": {"domain": [-2345.7, 7802.5], "nice": false, "zero": false},
                                "axis": {"orient": "left", "values": [500, 1000, 1500, 2000], "grid": false, "labelPadding": 3, "minExtent": 33, "maxExtent": 33, "labelExpr": "datum.value < 1000 ? datum.value + 'K' : format(datum.value / 1000, '.1f') + 'M'"}},
                          "color": {"condition": {"test": "datum.c < datum.o", "value": "#f5c4cc"}, "value": "#c4c4c4"}}},
            {"data": {"name": "vema"}, "mark": {"type": "line", "color": "#f08a8a", "strokeWidth": 1, "interpolate": "monotone"},
             "encoding": {"y": {"field": "e", "type": "quantitative", "scale": {"domain": [-2345.7, 7802.5], "nice": false, "zero": false}}}},
            {"data": {"values": [{"v": 513.749}]}, "mark": {"type": "point", "shape": "M-1.12,0L-1,-0.27H1V0.27H-1Z", "size": 1089, "filled": true, "fill": "white", "stroke": "#777", "strokeWidth": 0.8, "opacity": 1, "xOffset": 14.5},
             "encoding": {"x": {"datum": {"year":2012,"month":7,"date":28,"utc":true}, "type": "temporal"}, "y": {"field": "v", "type": "quantitative", "scale": {"domain": [-2345.7, 7802.5], "nice": false, "zero": false}}}},
            {"data": {"values": [{"v": 513.749, "t": "513749.0"}]}, "mark": {"type": "text", "align": "left", "baseline": "middle", "fontSize": 7, "fill": "#333"},
             "encoding": {"x": {"datum": {"year":2012,"month":7,"date":28,"utc":true}, "type": "temporal"}, "y": {"field": "v", "type": "quantitative", "scale": {"domain": [-2345.7, 7802.5], "nice": false, "zero": false}}, "text": {"field": "t"}}}
          ]
        },
        {
          "encoding": {
            "x": {"field": "d", "type": "temporal", "scale": {"type": "utc", "nice": false, "domain": [{"year":2009,"month":7,"date":18,"utc":true},{"year":2012,"month":7,"date":21,"utc":true}]},
                  "axis": {"orient": "bottom", "offset": -95, "zindex": 1, "grid": false, "tickCount": {"interval": "month", "step": 1}, "labelAlign": "left", "labelOffset": -3, "labelPadding": 4, "labelOverlap": false, "labelFlush": false, "labelBound": false,
                           "labelExpr": "utcmonth(datum.value) == 0 ? utcFormat(datum.value, '%Y') : ((utcmonth(datum.value) == 11 || (utcyear(datum.value) == 2010 && utcmonth(datum.value) == 1)) ? '' : utcFormat(datum.value, '%b'))",
                           "labelFontWeight": {"condition": {"test": "utcmonth(datum.value) == 0", "value": "bold"}, "value": "normal"}}}
          },
          "layer": [
            {"data": {"values": [{"t": "mask"}]}, "mark": {"type": "rect", "fill": "white", "strokeWidth": 0},
             "encoding": {"x": {"datum": {"year":2009,"month":7,"date":18,"utc":true}, "type": "temporal"}, "x2": {"datum": {"year":2012,"month":7,"date":21,"utc":true}},
                          "y": {"datum": 848, "type": "quantitative", "scale": {"domain": [387.6, 2388.6], "nice": false, "zero": false}}, "y2": {"datum": 788}}},
            {"data": {"values": [{"t": "box"}]}, "mark": {"type": "rect", "filled": false, "color": "#a8a8a8", "stroke": "#a8a8a8", "strokeWidth": 1},
             "encoding": {"x": {"datum": {"year":2009,"month":7,"date":18,"utc":true}, "type": "temporal"}, "x2": {"datum": {"year":2012,"month":7,"date":21,"utc":true}},
                          "y": {"datum": 2004, "type": "quantitative", "scale": {"domain": [387.6, 2388.6], "nice": false, "zero": false}}, "y2": {"datum": 850}}},
            {"data": {"name": "wk"}, "mark": {"type": "rule", "strokeWidth": 1},
             "encoding": {"y": {"field": "l", "type": "quantitative", "scale": {"domain": [387.6, 2388.6], "nice": false, "zero": false},
                                "axis": {"orient": "right", "values": [900,1000,1100,1200,1300,1400,1500,1600,1700,1800,1900], "format": "d", "grid": true, "labelPadding": 5}},
                          "y2": {"field": "h"},
                          "color": {"condition": {"test": "datum.c < datum.o", "value": "#e0004e"}, "value": "#000"}}},
            {"data": {"name": "wk"}, "mark": {"type": "bar", "size": 2.6, "strokeWidth": 0.7},
             "encoding": {"y": {"field": "o", "type": "quantitative", "scale": {"domain": [387.6, 2388.6], "nice": false, "zero": false}},
                          "y2": {"field": "c"},
                          "fill": {"condition": {"test": "datum.c < datum.o", "value": "#e0004e"}, "value": "#fff"},
                          "stroke": {"condition": {"test": "datum.c < datum.o", "value": "#e0004e"}, "value": "#000"}}},
            {"data": {"name": "ma"}, "mark": {"type": "line", "color": "#4646c0", "strokeWidth": 1, "interpolate": "monotone"},
             "encoding": {"y": {"field": "m", "type": "quantitative", "scale": {"domain": [387.6, 2388.6], "nice": false, "zero": false}}}},
            {"data": {"name": "ann"}, "mark": {"type": "rule", "color": "#333", "strokeWidth": 1.3},
             "encoding": {"x2": {"field": "d2"}, "y": {"field": "p", "type": "quantitative", "scale": {"domain": [387.6, 2388.6], "nice": false, "zero": false}}, "y2": {"field": "p2"}}},
            {"data": {"name": "txt"}, "mark": {"type": "text", "fontSize": 17, "align": "center", "baseline": "middle", "fill": "#111"},
             "encoding": {"y": {"field": "p", "type": "quantitative", "scale": {"domain": [387.6, 2388.6], "nice": false, "zero": false}}, "text": {"field": "t"}}},
            {"data": {"name": "bar"}, "mark": {"type": "text", "fontSize": 14, "align": "center", "baseline": "middle", "fill": "#111"},
             "encoding": {"y": {"field": "p", "type": "quantitative", "scale": {"domain": [387.6, 2388.6], "nice": false, "zero": false}}, "text": {"field": "t"}}},
            {"data": {"name": "lbl"}, "transform": [{"filter": "datum.pos == 'hi'"}],
             "mark": {"type": "point", "shape": "M-1,-0.3H1V0.3H0.12L0,0.44L-0.12,0.3H-1Z", "size": 729, "filled": true, "fill": "white", "stroke": "#bbb", "strokeWidth": 0.7, "opacity": 1, "yOffset": -9},
             "encoding": {"y": {"field": "p", "type": "quantitative", "scale": {"domain": [387.6, 2388.6], "nice": false, "zero": false}}}},
            {"data": {"name": "lbl"}, "transform": [{"filter": "datum.pos == 'hi'"}],
             "mark": {"type": "text", "fontSize": 6.5, "align": "center", "baseline": "middle", "dy": -9, "fill": "#444"},
             "encoding": {"y": {"field": "p", "type": "quantitative", "scale": {"domain": [387.6, 2388.6], "nice": false, "zero": false}}, "text": {"field": "t"}}},
            {"data": {"name": "lbl"}, "transform": [{"filter": "datum.pos == 'lo'"}],
             "mark": {"type": "point", "shape": "M-1,0.3H1V-0.3H0.12L0,-0.44L-0.12,-0.3H-1Z", "size": 729, "filled": true, "fill": "white", "stroke": "#bbb", "strokeWidth": 0.7, "opacity": 1, "yOffset": 8},
             "encoding": {"y": {"field": "p", "type": "quantitative", "scale": {"domain": [387.6, 2388.6], "nice": false, "zero": false}}}},
            {"data": {"name": "lbl"}, "transform": [{"filter": "datum.pos == 'lo'"}],
             "mark": {"type": "text", "fontSize": 6.5, "align": "center", "baseline": "middle", "dy": 8, "fill": "#444"},
             "encoding": {"y": {"field": "p", "type": "quantitative", "scale": {"domain": [387.6, 2388.6], "nice": false, "zero": false}}, "text": {"field": "t"}}},
            {"data": {"values": [{"t": "▚ $GOLD (Weekly) 1565.30"}]}, "mark": {"type": "text", "align": "left", "baseline": "middle", "dx": 3, "fontSize": 7.5, "fill": "#444", "font": "DejaVu Sans Mono"},
             "encoding": {"x": {"datum": {"year":2009,"month":7,"date":18,"utc":true}, "type": "temporal"}, "y": {"datum": 1964, "type": "quantitative", "scale": {"domain": [387.6, 2388.6], "nice": false, "zero": false}}, "text": {"field": "t"}}},
            {"data": {"values": [{"t": "━MA(40) 1660.91"}]}, "mark": {"type": "text", "align": "left", "baseline": "middle", "dx": 3, "fontSize": 7, "fill": "#3434b4", "font": "DejaVu Sans"},
             "encoding": {"x": {"datum": {"year":2009,"month":7,"date":18,"utc":true}, "type": "temporal"}, "y": {"datum": 1932, "type": "quantitative", "scale": {"domain": [387.6, 2388.6], "nice": false, "zero": false}}, "text": {"field": "t"}}},
            {"data": {"values": [{"t": "▖Volume 513.75K, EMA(60) 722.72K"}]}, "mark": {"type": "text", "align": "left", "baseline": "middle", "dx": 3, "fontSize": 7, "fill": "#888", "font": "DejaVu Sans"},
             "encoding": {"x": {"datum": {"year":2009,"month":7,"date":18,"utc":true}, "type": "temporal"}, "y": {"datum": 1900, "type": "quantitative", "scale": {"domain": [387.6, 2388.6], "nice": false, "zero": false}}, "text": {"field": "t"}}},
            {"data": {"values": [{"p": 1660.91}]}, "mark": {"type": "point", "shape": "M-1.12,0L-1,-0.3H1V0.3H-1Z", "size": 870, "filled": true, "fill": "white", "stroke": "#3b3bb3", "strokeWidth": 0.8, "opacity": 1, "xOffset": 12.7},
             "encoding": {"x": {"datum": {"year":2012,"month":7,"date":28,"utc":true}, "type": "temporal"}, "y": {"field": "p", "type": "quantitative", "scale": {"domain": [387.6, 2388.6], "nice": false, "zero": false}}}},
            {"data": {"values": [{"p": 1660.91, "t": "1660.91"}]}, "mark": {"type": "text", "align": "left", "baseline": "middle", "fontSize": 7, "fill": "#3b3bb3"},
             "encoding": {"x": {"datum": {"year":2012,"month":7,"date":28,"utc":true}, "type": "temporal"}, "y": {"field": "p", "type": "quantitative", "scale": {"domain": [387.6, 2388.6], "nice": false, "zero": false}}, "text": {"field": "t"}}},
            {"data": {"values": [{"p": 1565.3}]}, "mark": {"type": "point", "shape": "M-1.12,0L-1,-0.3H1V0.3H-1Z", "size": 900, "filled": true, "fill": "white", "stroke": "#111", "strokeWidth": 0.9, "opacity": 1, "xOffset": 13},
             "encoding": {"x": {"datum": {"year":2012,"month":7,"date":28,"utc":true}, "type": "temporal"}, "y": {"field": "p", "type": "quantitative", "scale": {"domain": [387.6, 2388.6], "nice": false, "zero": false}}}},
            {"data": {"values": [{"p": 1565.3, "t": "1565.30"}]}, "mark": {"type": "text", "align": "left", "baseline": "middle", "fontSize": 7, "fontWeight": "bold", "fill": "#111"},
             "encoding": {"x": {"datum": {"year":2012,"month":7,"date":28,"utc":true}, "type": "temporal"}, "y": {"field": "p", "type": "quantitative", "scale": {"domain": [387.6, 2388.6], "nice": false, "zero": false}}, "text": {"field": "t"}}}
          ]
        },
        {
          "data": {"name": "wk"},
          "encoding": {
            "x": {"field": "d", "type": "temporal", "scale": {"type": "utc", "nice": false, "domain": [{"year":2009,"month":7,"date":18,"utc":true},{"year":2012,"month":7,"date":21,"utc":true}]},
                  "axis": {"orient": "bottom", "grid": true, "tickCount": {"interval": "month", "step": 1}, "labelAlign": "left", "labelOffset": -3, "labelPadding": 4, "labelOverlap": false, "labelFlush": false, "labelBound": false,
                           "labelExpr": "utcmonth(datum.value) == 0 ? utcFormat(datum.value, '%Y') : ((utcmonth(datum.value) == 11 || (utcyear(datum.value) == 2010 && utcmonth(datum.value) == 1)) ? '' : utcFormat(datum.value, '%b'))",
                           "labelFontWeight": {"condition": {"test": "utcmonth(datum.value) == 0", "value": "bold"}, "value": "normal"}}}
          },
          "layer": [
            {"mark": {"type": "line", "color": "#222", "strokeWidth": 1},
             "encoding": {"y": {"field": "r", "type": "quantitative", "scale": {"domain": [0.886, 5.001], "nice": false, "zero": false},
                                "axis": {"orient": "right", "values": [1.0,1.1,1.2,1.3,1.4,1.5,1.6], "format": ".1f", "grid": true, "labelPadding": 5}}}},
            {"data": {"values": [{"t": "box"}]}, "mark": {"type": "rect", "filled": false, "color": "#a8a8a8", "stroke": "#a8a8a8", "strokeWidth": 1},
             "encoding": {"x": {"datum": {"year":2009,"month":7,"date":18,"utc":true}, "type": "temporal"}, "x2": {"datum": {"year":2012,"month":7,"date":21,"utc":true}},
                          "y": {"datum": 1.707, "type": "quantitative", "scale": {"domain": [0.886, 5.001], "nice": false, "zero": false}}, "y2": {"datum": 0.886}}},
            {"data": {"values": [{"t": "━ $GOLD:$SPX (Weekly) 1.17"}]}, "mark": {"type": "text", "align": "left", "baseline": "middle", "dx": 3, "fontSize": 7.5, "fill": "#444", "font": "DejaVu Sans Mono"},
             "encoding": {"x": {"datum": {"year":2009,"month":7,"date":18,"utc":true}, "type": "temporal"}, "y": {"datum": 1.653, "type": "quantitative", "scale": {"domain": [0.886, 5.001], "nice": false, "zero": false}}, "text": {"field": "t"}}},
            {"data": {"values": [{"v": 1.17}]}, "mark": {"type": "point", "shape": "M-1.2,0L-1,-0.5H1V0.5H-1Z", "size": 324, "filled": true, "fill": "white", "stroke": "#111", "strokeWidth": 0.9, "opacity": 1, "xOffset": 7.5},
             "encoding": {"x": {"datum": {"year":2012,"month":7,"date":28,"utc":true}, "type": "temporal"}, "y": {"field": "v", "type": "quantitative", "scale": {"domain": [0.886, 5.001], "nice": false, "zero": false}}}},
            {"data": {"values": [{"v": 1.17, "t": "1.17"}]}, "mark": {"type": "text", "align": "left", "baseline": "middle", "fontSize": 7.5, "fontWeight": "bold", "fill": "#111"},
             "encoding": {"x": {"datum": {"year":2012,"month":7,"date":28,"utc":true}, "type": "temporal"}, "y": {"field": "v", "type": "quantitative", "scale": {"domain": [0.886, 5.001], "nice": false, "zero": false}}, "text": {"field": "t"}}}
          ]
        }
      ],
      "resolve": {"scale": {"y": "independent"}, "axis": {"y": "independent", "x": "independent"}}
    }
  ]
}
